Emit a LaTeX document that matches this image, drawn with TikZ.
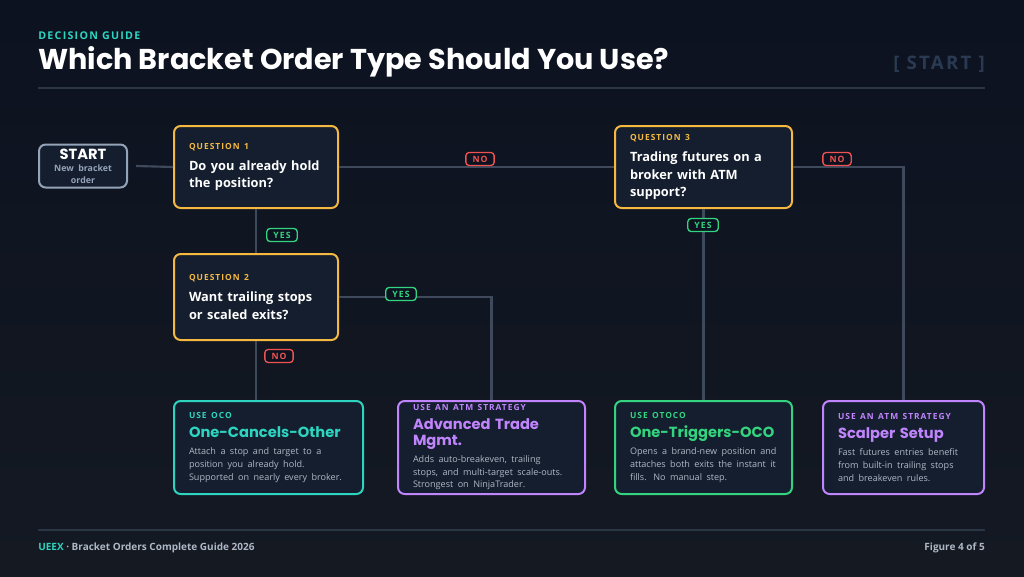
\documentclass[tikz,border=0pt]{standalone}
\usepackage{fontspec}
\setmainfont{Open Sans}
\newfontfamily\headfont{Poppins}[BoldFont=* Bold]
\newfontfamily\capsfont[LetterSpace=12]{Open Sans}
\usetikzlibrary{positioning,calc}
\definecolor{bgtop}{HTML}{0C1220}
\definecolor{bgbot}{HTML}{141922}
\definecolor{boxfill}{HTML}{141E2E}
\definecolor{qorange}{HTML}{F5B942}
\definecolor{rteal}{HTML}{2DD4BF}
\definecolor{rpurple}{HTML}{C084FC}
\definecolor{rgreen}{HTML}{34D37F}
\definecolor{nored}{HTML}{EF5350}
\definecolor{wire}{HTML}{3E4A5C}
\definecolor{startgray}{HTML}{94A3B8}
\definecolor{desc}{HTML}{AEB8C6}
\definecolor{rulecol}{HTML}{2A3546}
\definecolor{stampcol}{HTML}{2A3A52}
\newcommand{\kick}[2]{{\capsfont\bfseries\fontsize{6.3}{7.5}\selectfont\color{#1}#2\par}}
\newcommand{\ask}[1]{\vspace{3pt}{\bfseries\fontsize{9.6}{13}\selectfont #1\par}}
\newcommand{\verdict}[2]{\vspace{2pt}{\headfont\bfseries\fontsize{11}{12}\selectfont\color{#1}#2\par}}
\newcommand{\blurb}[1]{\vspace{3pt}{\color{desc}\fontsize{6.8}{9.6}\selectfont #1\par}}
\begin{document}
\begin{tikzpicture}[x=0.75pt,y=-0.75pt,
    box/.style={draw, line width=1.5pt, rounded corners=5pt, fill=boxfill, inner sep=0pt, align=left, text=white},
    question/.style={box, draw=qorange, minimum width=164pt*0.75, minimum height=82pt*0.75, text width=134pt*0.75},
    result/.style={box, minimum width=#1*0.75pt, minimum height=93pt*0.75, text width=(#1-30)*0.75pt},
    tag/.style={draw, line width=1pt, rounded corners=2.5pt, fill=bgtop, inner xsep=5pt, inner ysep=2.5pt, font=\capsfont\bfseries\fontsize{6.5}{7}\selectfont},
    wireline/.style={draw=wire, line width=1.6pt}]
  % background and frame
  \shade[top color=bgtop, bottom color=bgbot] (0,0) rectangle (1024,576);
  \useasboundingbox (0,0) rectangle (1024,576);
  \node (kicker) [anchor=west, text=rteal, font=\capsfont\bfseries\fontsize{8}{9}\selectfont, inner sep=0pt] at (38,36) {DECISION GUIDE};
  \node (title) [anchor=west, text=white, font=\headfont\bfseries\fontsize{21.5}{24}\selectfont, inner sep=0pt] at (38,62) {Which Bracket Order Type Should You Use?};
  \node (stamp) [anchor=east, text=stampcol, font=\capsfont\bfseries\fontsize{14}{15}\selectfont, inner sep=0pt] at (985,64) {[ START ]};
  \draw[rulecol, line width=1pt] (38,88) -- (985,88);
  \draw[rulecol, line width=1pt] (38,530) -- (985,530);
  \node (brand) [anchor=west, inner sep=0pt, font=\bfseries\fontsize{7.5}{9}\selectfont, text=desc] at (38,548) {\textcolor{rteal}{UEEX} · Bracket Orders Complete Guide 2026};
  \node (fig) [anchor=east, inner sep=0pt, font=\bfseries\fontsize{7.5}{9}\selectfont, text=desc] at (985,548) {Figure 4 of 5};

  % decision boxes
  \node (start) [box, draw=startgray, minimum width=88pt*0.75, minimum height=43pt*0.75, align=center, text width=80pt*0.75] at (83,166)
    {{\headfont\bfseries\fontsize{11}{12}\selectfont START\par}\vspace{1pt}{\color{startgray}\bfseries\fontsize{6.6}{8.4}\selectfont New bracket\\order\par}};
  \node (q1) [question] at (256,167) {\kick{qorange}{QUESTION 1}\ask{Do you already hold\\the position?}};
  \node (q2) [question, minimum height=86pt*0.75] at (256,297) {\kick{qorange}{QUESTION 2}\ask{Want trailing stops\\or scaled exits?}};
  \node (q3) [question, minimum width=177pt*0.75, text width=147pt*0.75] at (703.5,167) {\kick{qorange}{QUESTION 3}\ask{Trading futures on a\\broker with ATM\\support?}};

  % result boxes
  \node (oco) [result=189, draw=rteal] at (268.5,447.5) {\kick{rteal}{USE OCO}\verdict{rteal}{One-Cancels-Other}\blurb{Attach a stop and target to a\\position you already hold.\\Supported on nearly every broker.}};
  \node (atm) [result=187, draw=rpurple] at (491.5,447.5) {\kick{rpurple}{USE AN ATM STRATEGY}\verdict{rpurple}{Advanced Trade\\Mgmt.}\blurb{Adds auto-breakeven, trailing\\stops, and multi-target scale-outs.\\Strongest on NinjaTrader.}};
  \node (otoco) [result=177, draw=rgreen] at (703.5,447.5) {\kick{rgreen}{USE OTOCO}\verdict{rgreen}{One-Triggers-OCO}\blurb{Opens a brand-new position and\\attaches both exits the instant it\\fills. No manual step.}};
  \node (scalp) [result=161, draw=rpurple] at (903.5,447.5) {\kick{rpurple}{USE AN ATM STRATEGY}\verdict{rpurple}{Scalper Setup}\blurb{Fast futures entries benefit\\from built-in trailing stops\\and breakeven rules.}};

  % connectors
  \path[wireline] ([xshift=6pt]start.east) -- (q1.west);
  \path[wireline] (q1.east) -- (q3.west);
  \path[wireline] (q1.south) -- (q2.north);
  \path[wireline] (q2.east) -| (atm.north);
  \path[wireline] (q2.south) -- (q2.south |- oco.north);
  \path[wireline] (q3.south) -- (otoco.north);
  \path[wireline] (q3.east) -| (scalp.north);

  % branch tags
  \node (noq1) [tag, draw=nored, text=nored] at (480,159) {NO};
  \node (yesq1) [tag, draw=rgreen, text=rgreen] at (282,235) {YES};
  \node (yesq2) [tag, draw=rgreen, text=rgreen] at (401,294) {YES};
  \node (noq2) [tag, draw=nored, text=nored] at (279,356) {NO};
  \node (yesq3) [tag, draw=rgreen, text=rgreen] at (703,225) {YES};
  \node (noq3) [tag, draw=nored, text=nored] at (837,159) {NO};
\end{tikzpicture}
\end{document}
